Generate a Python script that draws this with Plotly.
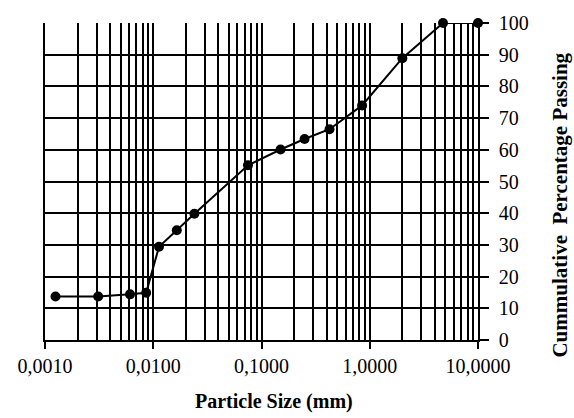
import plotly.graph_objects as go

# Data
particle_size_mm = [0.00125, 0.0031, 0.0061, 0.0086, 0.0113, 0.0165, 0.024,
                    0.075, 0.15, 0.25, 0.425, 0.85, 2.0, 4.75, 10.0]
percent_passing = [13.7, 13.7, 14.4, 14.9, 29.4, 34.6, 39.8,
                   55.1, 60.1, 63.4, 66.5, 74.0, 88.9, 100.0, 100.0]

x_major_ticks = [0.001, 0.01, 0.1, 1, 10]
x_major_labels = ["0,0010", "0,0100", "0,1000", "1,0000", "10,0000"]
x_minor_ticks = [m * d for d in [0.001, 0.01, 0.1, 1] for m in range(2, 10)]
y_ticks = list(range(0, 101, 10))

FONT = "Liberation Serif"

fig = go.Figure()
fig.add_trace(go.Scatter(
    x=particle_size_mm, y=percent_passing, mode="lines+markers",
    line=dict(color="black", width=2),
    marker=dict(color="black", size=10),
    cliponaxis=False, showlegend=False,
))

fig.update_layout(
    width=574, height=418,
    margin=dict(l=45, r=96, t=20, b=78),
    plot_bgcolor="white", paper_bgcolor="white",
    font=dict(family=FONT, color="black"),
    xaxis=dict(
        type="log", range=[-3, 1],
        tickvals=x_major_ticks, ticktext=x_major_labels,
        ticks="outside", ticklen=7, tickwidth=1.5, tickcolor="black",
        tickfont=dict(family=FONT, size=20, color="black"),
        showgrid=True, gridcolor="black", gridwidth=1.6,
        showline=True, linecolor="black", linewidth=1.6,
        zeroline=False,
        minor=dict(tickvals=x_minor_ticks, showgrid=True, gridcolor="black",
                   gridwidth=1.6, ticks=""),
    ),
    yaxis=dict(
        side="right", range=[0, 100],
        tickvals=y_ticks,
        ticks="outside", ticklen=9, tickwidth=1.6, tickcolor="black",
        ticklabelstandoff=6,
        tickfont=dict(family=FONT, size=20, color="black"),
        showgrid=True, gridcolor="black", gridwidth=1.6,
        showline=True, linecolor="black", linewidth=1.6, mirror=True,
        zeroline=False,
    ),
    annotations=[
        dict(text="<b>Particle Size (mm)</b>", xref="paper", yref="paper",
             x=0.53, y=-0.194, xanchor="center", yanchor="middle",
             showarrow=False, font=dict(family=FONT, size=20, color="black")),
        dict(text="<b>Cummulative  Percentage Passing</b>", xref="paper", yref="paper",
             x=1.19, y=0.425, xanchor="center", yanchor="middle", textangle=-90,
             showarrow=False, font=dict(family=FONT, size=21, color="black")),
    ],
)

fig.write_html("out.html")
